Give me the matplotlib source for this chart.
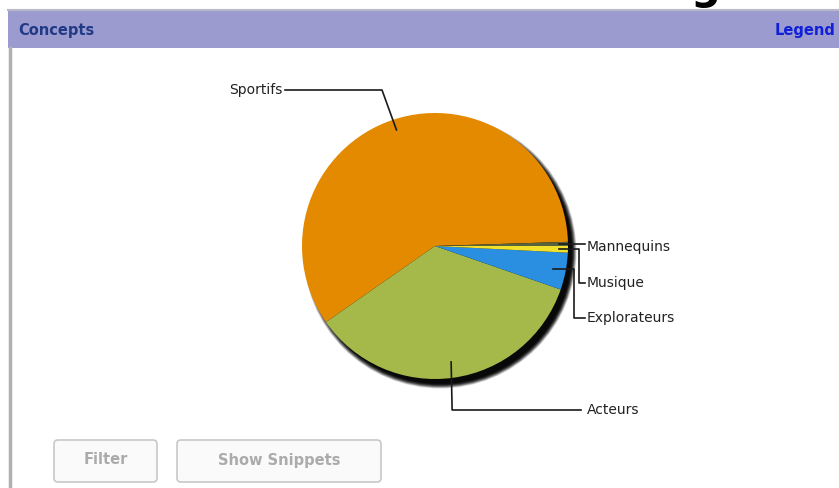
import numpy as np
import matplotlib.pyplot as plt
from matplotlib.patches import Rectangle, Circle, FancyBboxPatch

# concept counts (share of documents, %)
labels = ['Sportifs', 'Acteurs', 'Explorateurs', 'Musique', 'Mannequins']
shares = [59.2, 35.0, 4.5, 0.8, 0.5]
colors = ['#e38a00', '#a5b94b', '#2a8fe0', '#f2e12a', '#5a643c']
buttons = ['Filter', 'Show Snippets']

W, H = 839, 488
fig = plt.figure(figsize=(W / 100, H / 100), dpi=100)
ax = fig.add_axes([0, 0, 1, 1])

# panel frame + header bar
ax.add_patch(Rectangle((8, H - 48), W - 8, 38, facecolor='#9b9bcf', edgecolor='none'))
ax.plot([8, W], [H - 10, H - 10], color='#b8b8c8', lw=1.5)
ax.plot([10, 10], [0, H - 48], color='#b0b0b0', lw=2.5)
ax.text(18, H - 30, 'Concepts', fontsize=10.5, fontweight='bold', color='#213a86',
        va='center', ha='left')
ax.text(835, H - 31, 'Legend', fontsize=10.5, fontweight='bold', color='#1020d8',
        va='center', ha='right')
ax.text(705, H + 1, 'g', fontsize=30, fontweight='bold', color='black',
        ha='center', va='baseline')

cx, cy, r = 435, H - 246, 133

# soft drop shadow
for k in range(9):
    ax.add_patch(Circle((cx + 5, cy - 6), r + 3.5 - k * 0.6, facecolor='black',
                        edgecolor='none', alpha=0.14 + k * 0.04, zorder=1))

wedges, _ = ax.pie(shares, colors=colors, startangle=1.8, counterclock=True,
                   center=(cx, cy), radius=r, frame=True,
                   wedgeprops=dict(linewidth=0, zorder=2))
ax.set_xlim(0, W)
ax.set_ylim(0, H)
ax.axis('off')


def anchor(w, frac):
    a = np.deg2rad((w.theta1 + w.theta2) / 2)
    return cx + frac * r * np.cos(a), cy + frac * r * np.sin(a)


lc = '#1a1a1a'
fs = 10

# Sportifs
x0, y0 = anchor(wedges[0], 0.92)
ax.plot([x0, 382, 285], [y0, H - 90, H - 90], color=lc, lw=1.2, zorder=3)
ax.text(282, H - 90, 'Sportifs', fontsize=fs, ha='right', va='center', color='#222')

# Acteurs
x0, y0 = anchor(wedges[1], 0.88)
ax.plot([x0, x0 + 1, 581], [y0, H - 410, H - 410], color=lc, lw=1.2, zorder=3)
ax.text(587, H - 410, 'Acteurs', fontsize=fs, ha='left', va='center', color='#222')

# Explorateurs
x0, y0 = anchor(wedges[2], 0.9)
ax.plot([x0, 574, 574, 585], [y0, y0, H - 318, H - 318], color=lc, lw=1.2, zorder=3)
ax.text(587, H - 318, 'Explorateurs', fontsize=fs, ha='left', va='center', color='#222')

# Musique
x0, y0 = anchor(wedges[3], 0.93)
ax.plot([x0, 579, 579, 585], [y0, y0, H - 283, H - 283], color=lc, lw=1.2, zorder=3)
ax.text(587, H - 283, 'Musique', fontsize=fs, ha='left', va='center', color='#222')

# Mannequins
x0, y0 = anchor(wedges[4], 0.93)
ax.plot([x0, 585], [y0, y0], color=lc, lw=1.2, zorder=3)
ax.text(587, H - 247, 'Mannequins', fontsize=fs, ha='left', va='center', color='#222')

# disabled buttons
for (bx, bw), name in zip([(54, 103), (177, 204)], buttons):
    ax.add_patch(FancyBboxPatch((bx, H - 482), bw, 42,
                                boxstyle='round,pad=0,rounding_size=4',
                                facecolor='#fafafa', edgecolor='#c8c8c8', lw=1.2))
    ax.text(bx + bw / 2, H - 460, name, fontsize=10.5, fontweight='bold',
            color='#ababab', ha='center', va='center')

fig.savefig('out.png', dpi=100)
